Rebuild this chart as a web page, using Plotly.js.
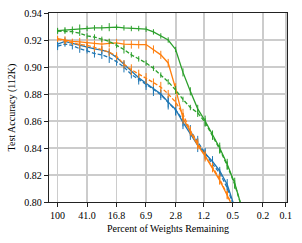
<!DOCTYPE html>
<html>
<head>
<meta charset="utf-8">
<script src="https://cdn.plot.ly/plotly-3.0.1.min.js"></script>
<style>html,body{margin:0;padding:0;background:#fff;}#chart{width:302px;height:243px;}</style>
</head>
<body>
<div id="chart"></div>
<script>
// Percent of weights remaining at each pruning iteration
const percentRemaining = [100, 80, 64, 51.2, 40.96, 32.77, 26.21, 20.97, 16.78, 13.42, 10.74, 8.59, 6.87, 5.50, 4.40, 3.52, 2.81, 2.25, 1.80, 1.44, 1.15, 0.92, 0.74, 0.59, 0.47, 0.38];

const tickValues = [100, 41, 16.8, 6.9, 2.8, 1.2, 0.5, 0.2, 0.1];
const tickLabels = ["100", "41.0", "16.8", "6.9", "2.8", "1.2", "0.5", "0.2", "0.1"];
const yTickValues = [0.80, 0.82, 0.84, 0.86, 0.88, 0.90, 0.92, 0.94];

const blueSolid   = [0.917, 0.919, 0.9175, 0.916, 0.915, 0.9135, 0.9125, 0.911, 0.907, 0.902, 0.897, 0.892, 0.888, 0.884, 0.880, 0.874, 0.8685, 0.859, 0.850, 0.842, 0.836, 0.830, 0.823, 0.813, 0.796];
const blueDashed  = [0.9155, 0.917, 0.916, 0.9135, 0.912, 0.910, 0.909, 0.907, 0.904, 0.900, 0.8945, 0.891, 0.887, 0.8835, 0.8795, 0.8735, 0.868, 0.861, 0.853, 0.845, 0.836, 0.828, 0.8215, 0.8105, 0.795];
const orangeSolid = [0.921, 0.9198, 0.919, 0.9186, 0.918, 0.9175, 0.917, 0.9175, 0.9178, 0.917, 0.9166, 0.9166, 0.9166, 0.913, 0.909, 0.903, 0.884, 0.862, 0.852, 0.842, 0.834, 0.825, 0.816, 0.805, 0.793];
const orangeDashed= [0.9205, 0.919, 0.918, 0.9166, 0.916, 0.9145, 0.913, 0.911, 0.908, 0.902, 0.898, 0.895, 0.8915, 0.8885, 0.885, 0.880, 0.874, 0.865, 0.853, 0.843, 0.834, 0.826, 0.817, 0.8055, 0.793];
const greenSolid  = [0.927, 0.9275, 0.928, 0.9285, 0.9285, 0.929, 0.929, 0.9295, 0.9295, 0.929, 0.9285, 0.9285, 0.928, 0.926, 0.923, 0.920, 0.913, 0.896, 0.882, 0.869, 0.860, 0.850, 0.840, 0.828, 0.814, 0.796];
const greenDashed = [0.9265, 0.9265, 0.9262, 0.925, 0.923, 0.9222, 0.9205, 0.919, 0.916, 0.913, 0.909, 0.906, 0.903, 0.899, 0.894, 0.889, 0.883, 0.876, 0.870, 0.866, 0.859, 0.849, 0.839, 0.827, 0.813, 0.796];

const blueSolidErr   = [0.003, 0.003, 0.002, 0.002, 0.003, 0.002, 0.003, 0.002, 0.003, 0.003, 0.002, 0.003, 0.003, 0.004, 0.003, 0.004, 0.004, 0.005, 0.004, 0.005, 0.004, 0.004, 0.003, 0.004, 0.004];
const blueDashedErr  = [0.003, 0.002, 0.003, 0.003, 0.002, 0.003, 0.003, 0.004, 0.003, 0.004, 0.003, 0.004, 0.004, 0.005, 0.004, 0.005, 0.004, 0.005, 0.004, 0.004, 0.003, 0.004, 0.003, 0.003, 0.004];
const orangeSolidErr = [0.002, 0.003, 0.002, 0.003, 0.003, 0.002, 0.004, 0.003, 0.003, 0.003, 0.003, 0.003, 0.004, 0.003, 0.003, 0.003, 0.004, 0.004, 0.003, 0.003, 0.003, 0.003, 0.003, 0.003, 0.003];
const orangeDashedErr= [0.002, 0.002, 0.002, 0.003, 0.002, 0.003, 0.002, 0.003, 0.003, 0.003, 0.004, 0.003, 0.004, 0.003, 0.004, 0.003, 0.004, 0.004, 0.003, 0.004, 0.004, 0.003, 0.004, 0.003, 0.003];
const greenSolidErr  = [0.002, 0.002, 0.002, 0.003, 0.002, 0.002, 0.002, 0.003, 0.002, 0.002, 0.002, 0.002, 0.002, 0.002, 0.002, 0.002, 0.002, 0.003, 0.003, 0.003, 0.004, 0.003, 0.004, 0.004, 0.004, 0.004];
const greenDashedErr = [0.002, 0.002, 0.002, 0.002, 0.002, 0.002, 0.002, 0.002, 0.002, 0.003, 0.002, 0.002, 0.002, 0.002, 0.002, 0.002, 0.003, 0.002, 0.002, 0.003, 0.003, 0.003, 0.003, 0.003, 0.003, 0.003];

const BLUE = '#1f77b4', ORANGE = '#ff7f0e', GREEN = '#2ca02c';

function series(y, err, color, dashed) {
  return {
    x: percentRemaining.slice(0, y.length),
    y: y,
    type: 'scatter',
    mode: 'lines',
    line: {color: color, width: 1.3, dash: dashed ? '4px,2px' : 'solid'},
    error_y: {type: 'data', array: err, visible: true, color: color, thickness: 1, width: 0},
    showlegend: false,
    hoverinfo: 'skip'
  };
}

const data = [
  series(blueSolid, blueSolidErr, BLUE, false),
  series(blueDashed, blueDashedErr, BLUE, true),
  series(orangeSolid, orangeSolidErr, ORANGE, false),
  series(orangeDashed, orangeDashedErr, ORANGE, true),
  series(greenSolid, greenSolidErr, GREEN, false),
  series(greenDashed, greenDashedErr, GREEN, true)
];

const font = {family: "'Liberation Serif', 'DejaVu Serif', serif", size: 10, color: '#000'};

const layout = {
  width: 302,
  height: 243,
  margin: {l: 49, r: 15, t: 13, b: 41},
  paper_bgcolor: '#fff',
  plot_bgcolor: '#fff',
  font: font,
  xaxis: {
    type: 'log',
    range: [2.113, -1.015],
    tickmode: 'array',
    tickvals: tickValues,
    ticktext: tickLabels,
    ticks: 'outside',
    ticklen: 4,
    tickwidth: 1,
    tickcolor: '#222',
    showgrid: true,
    gridcolor: '#cccccc',
    gridwidth: 1.5,
    showline: true,
    linecolor: '#222',
    linewidth: 1.2,
    mirror: true,
    zeroline: false,
    tickfont: font,
    title: {text: 'Percent of Weights Remaining', font: font, standoff: 4}
  },
  yaxis: {
    range: [0.80, 0.94],
    tickmode: 'array',
    tickvals: yTickValues,
    ticktext: yTickValues.map(v => v.toFixed(2)),
    ticks: 'outside',
    ticklen: 4,
    tickwidth: 1,
    tickcolor: '#222',
    showgrid: true,
    gridcolor: '#cccccc',
    gridwidth: 1.5,
    showline: true,
    linecolor: '#222',
    linewidth: 1.2,
    mirror: true,
    zeroline: false,
    tickfont: font,
    title: {text: 'Test Accuracy (112K)', font: font, standoff: 6}
  }
};

Plotly.newPlot('chart', data, layout, {staticPlot: true, displayModeBar: false});
</script>
</body>
</html>
